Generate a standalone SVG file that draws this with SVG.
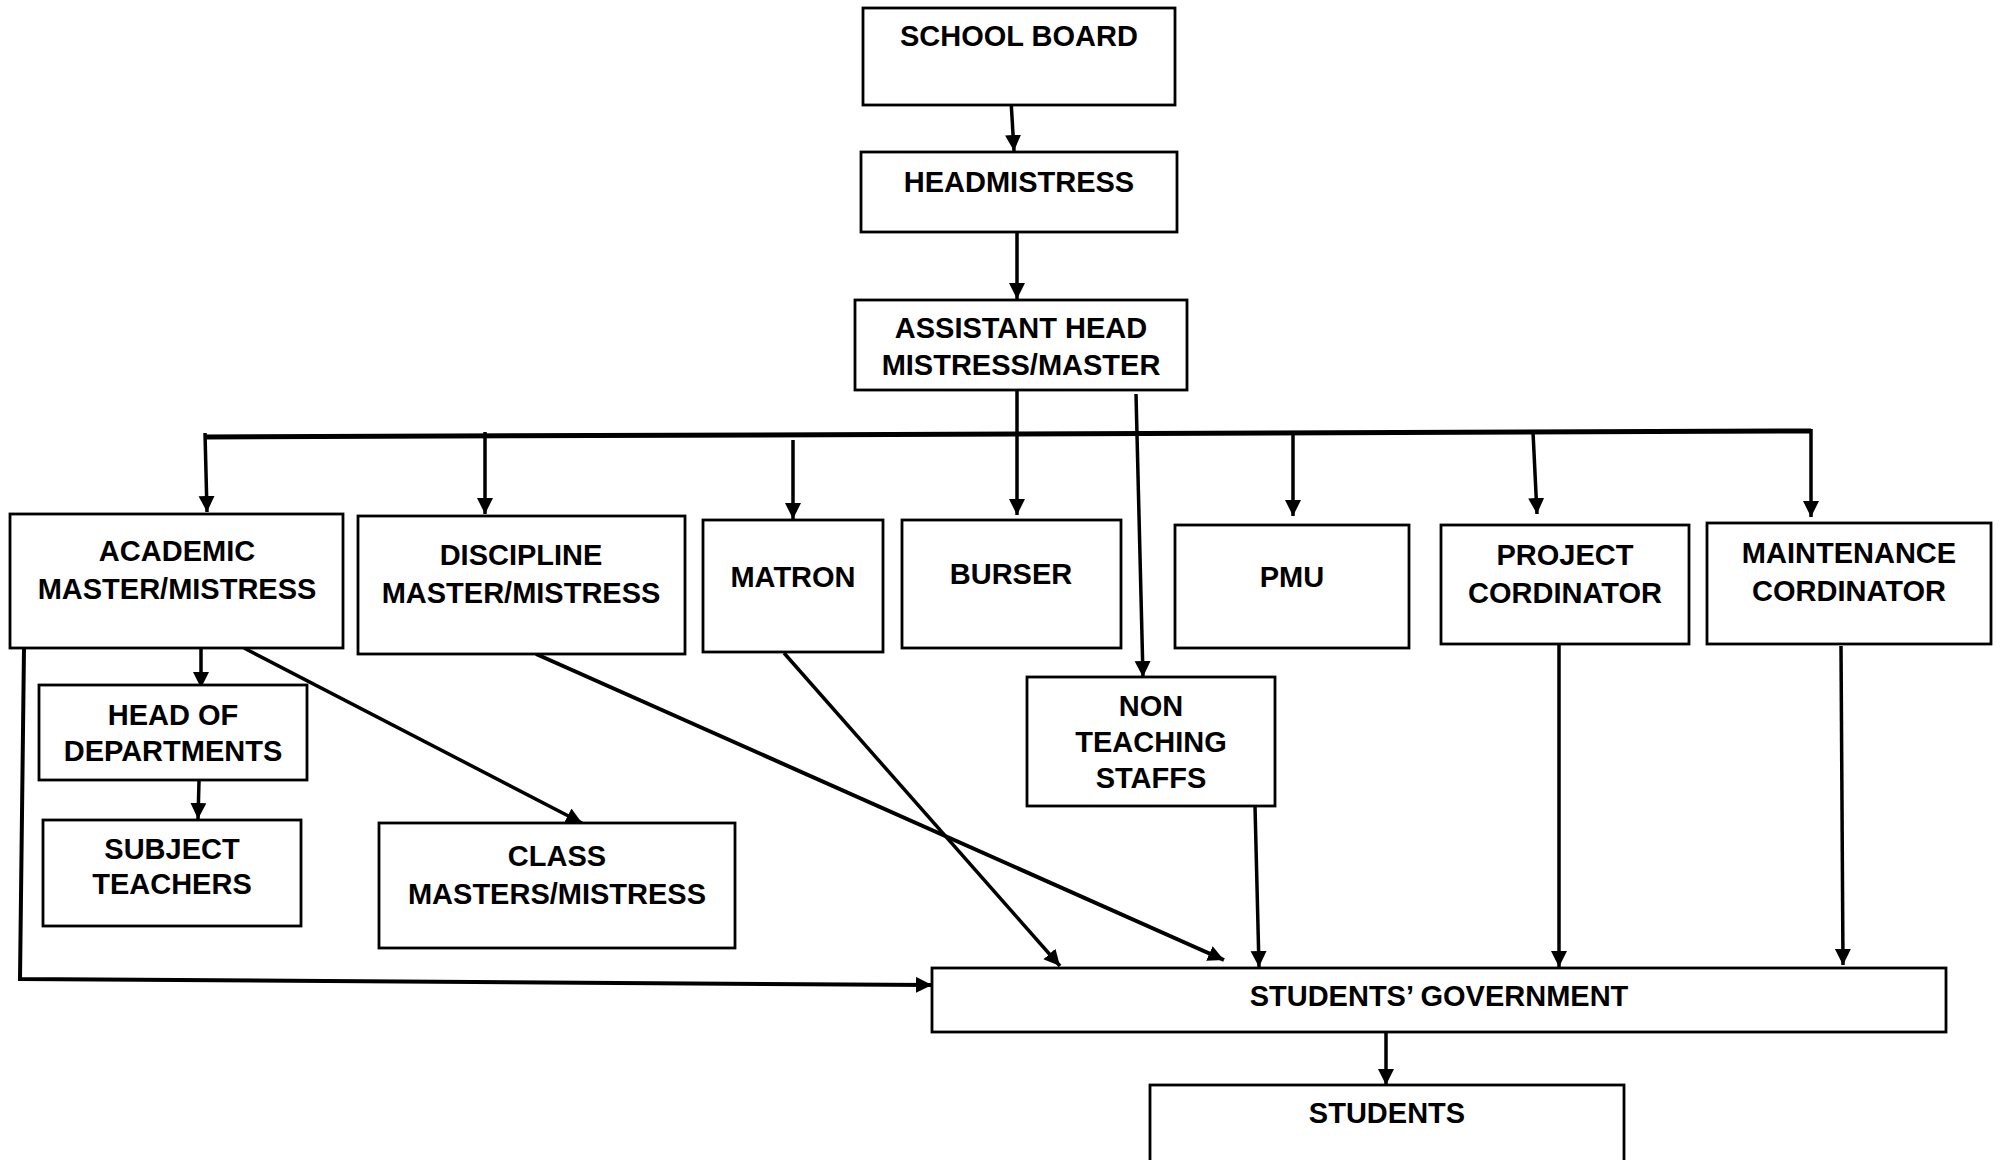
<svg xmlns="http://www.w3.org/2000/svg" width="2000" height="1160" viewBox="0 0 2000 1160">
<style>
.box{fill:#fff;stroke:#000;stroke-width:2.8}
.t{font-family:"Liberation Sans",Arial,sans-serif;font-weight:bold;font-size:29px;text-anchor:middle;fill:#000}
.c{fill:none;stroke:#000;stroke-width:3.5}
.bus{fill:none;stroke:#000;stroke-width:5}
</style>
<defs>
<marker id="ah" markerUnits="userSpaceOnUse" markerWidth="17" markerHeight="17" refX="16" refY="8" orient="auto">
<path d="M0,0 L16,8 L0,16 z" fill="#000"/>
</marker>
</defs>
<rect width="2000" height="1160" fill="#fff"/>
<g id="connectors">
<line class="c" x1="1011" y1="100" x2="1014" y2="151" marker-end="url(#ah)"/>
<line class="c" x1="1017" y1="231" x2="1017" y2="299" marker-end="url(#ah)"/>
<line class="bus" x1="205" y1="437" x2="1811" y2="431"/>
<line class="c" x1="205" y1="433" x2="207" y2="512" marker-end="url(#ah)"/>
<line class="c" x1="485" y1="432" x2="485" y2="514" marker-end="url(#ah)"/>
<line class="c" x1="793" y1="440" x2="793" y2="519" marker-end="url(#ah)"/>
<line class="c" x1="1017" y1="391" x2="1017" y2="515" marker-end="url(#ah)"/>
<line class="c" x1="1136" y1="394" x2="1143" y2="677" marker-end="url(#ah)"/>
<line class="c" x1="1293" y1="432" x2="1293" y2="516" marker-end="url(#ah)"/>
<line class="c" x1="1533" y1="432" x2="1537" y2="514" marker-end="url(#ah)"/>
<line class="c" x1="1811" y1="429" x2="1811" y2="517" marker-end="url(#ah)"/>
<line class="c" x1="201" y1="648" x2="201" y2="688" marker-end="url(#ah)"/>
<line class="c" x1="199" y1="781" x2="198" y2="819" marker-end="url(#ah)"/>
<line class="c" x1="244" y1="648" x2="582" y2="823" marker-end="url(#ah)"/>
<polyline class="c" style="stroke-width:4" points="24,648 20,979 932,985" marker-end="url(#ah)"/>
<line class="c" style="stroke-width:4" x1="536" y1="654" x2="1224" y2="960" marker-end="url(#ah)"/>
<line class="c" x1="784" y1="653" x2="1060" y2="966" marker-end="url(#ah)"/>
<line class="c" x1="1255" y1="806" x2="1259" y2="967" marker-end="url(#ah)"/>
<line class="c" x1="1559" y1="644" x2="1559" y2="967" marker-end="url(#ah)"/>
<line class="c" x1="1841" y1="646" x2="1843" y2="965" marker-end="url(#ah)"/>
<line class="c" x1="1386" y1="1033" x2="1386" y2="1085" marker-end="url(#ah)"/>
</g>
<g id="school-board"><rect class="box" x="863" y="8" width="312" height="97"/><text class="t" x="1019" y="46">SCHOOL BOARD</text></g>
<g id="headmistress"><rect class="box" x="861" y="152" width="316" height="80"/><text class="t" x="1019" y="192">HEADMISTRESS</text></g>
<g id="assistant-head"><rect class="box" x="855" y="300" width="332" height="90"/><text class="t" x="1021" y="338">ASSISTANT HEAD</text><text class="t" x="1021" y="375">MISTRESS/MASTER</text></g>
<g id="academic"><rect class="box" x="10" y="514" width="333" height="134"/><text class="t" x="177" y="561">ACADEMIC</text><text class="t" x="177" y="599">MASTER/MISTRESS</text></g>
<g id="discipline"><rect class="box" x="358" y="516" width="327" height="138"/><text class="t" x="521" y="565">DISCIPLINE</text><text class="t" x="521" y="603">MASTER/MISTRESS</text></g>
<g id="matron"><rect class="box" x="703" y="520" width="180" height="132"/><text class="t" x="793" y="587">MATRON</text></g>
<g id="burser"><rect class="box" x="902" y="520" width="219" height="128"/><text class="t" x="1011" y="584">BURSER</text></g>
<g id="pmu"><rect class="box" x="1175" y="525" width="234" height="123"/><text class="t" x="1292" y="587">PMU</text></g>
<g id="project-cordinator"><rect class="box" x="1441" y="525" width="248" height="119"/><text class="t" x="1565" y="565">PROJECT</text><text class="t" x="1565" y="603">CORDINATOR</text></g>
<g id="maintenance-cordinator"><rect class="box" x="1707" y="523" width="284" height="121"/><text class="t" x="1849" y="563">MAINTENANCE</text><text class="t" x="1849" y="601">CORDINATOR</text></g>
<g id="non-teaching"><rect class="box" x="1027" y="677" width="248" height="129"/><text class="t" x="1151" y="716">NON</text><text class="t" x="1151" y="752">TEACHING</text><text class="t" x="1151" y="788">STAFFS</text></g>
<g id="head-of-departments"><rect class="box" x="39" y="685" width="268" height="95"/><text class="t" x="173" y="725">HEAD OF</text><text class="t" x="173" y="761">DEPARTMENTS</text></g>
<g id="subject-teachers"><rect class="box" x="43" y="820" width="258" height="106"/><text class="t" x="172" y="859">SUBJECT</text><text class="t" x="172" y="894">TEACHERS</text></g>
<g id="class-masters"><rect class="box" x="379" y="823" width="356" height="125"/><text class="t" x="557" y="866">CLASS</text><text class="t" x="557" y="904">MASTERS/MISTRESS</text></g>
<g id="students-government"><rect class="box" x="932" y="968" width="1014" height="64"/><text class="t" x="1439" y="1006">STUDENTS’ GOVERNMENT</text></g>
<g id="students"><rect class="box" x="1150" y="1085" width="474" height="90"/><text class="t" x="1387" y="1123">STUDENTS</text></g>
</svg>
